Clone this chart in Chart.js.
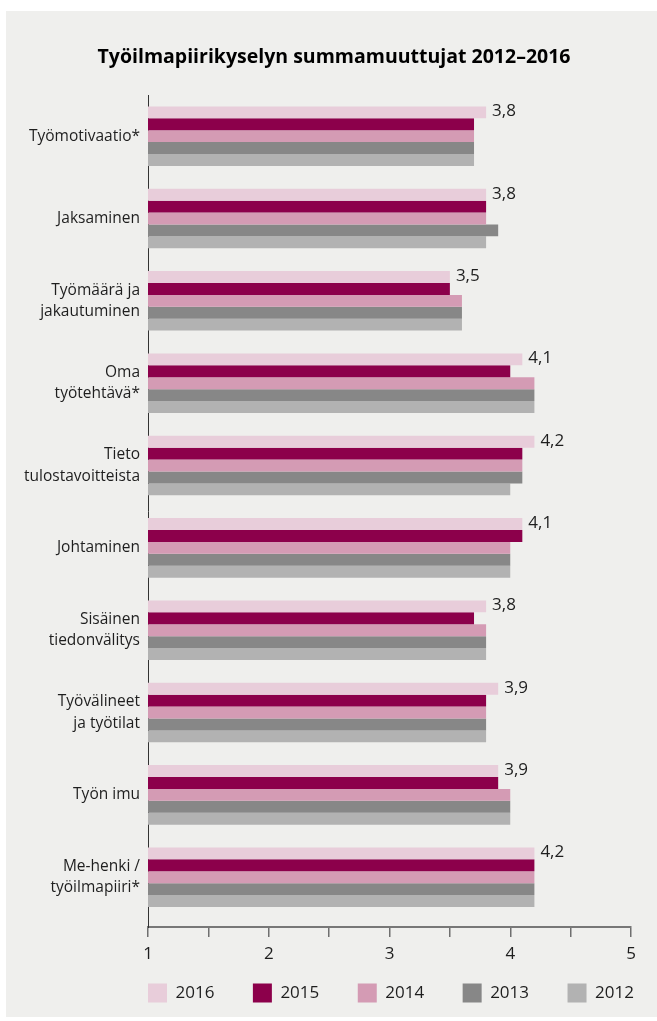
<!DOCTYPE html>
<html lang="fi">
<head>
<meta charset="utf-8">
<title>Työilmapiirikyselyn summamuuttujat 2012–2016</title>
<script src="https://cdn.jsdelivr.net/npm/chart.js@4/dist/chart.umd.min.js"></script>
<style>
    html, body { margin: 0; padding: 0; background: #ffffff; }
    #panel {
        position: absolute; left: 6px; top: 11px;
        width: 651px; height: 1006px;
        background: #efefed;
    }
</style>
</head>
<body>
<div id="panel"><canvas id="chart" width="651" height="1006"></canvas></div>
<script>
const categories = [
    'Työmotivaatio*',
    'Jaksaminen',
    ['Työmäärä ja', 'jakautuminen'],
    ['Oma', 'työtehtävä*'],
    ['Tieto', 'tulostavoitteista'],
    'Johtaminen',
    ['Sisäinen', 'tiedonvälitys'],
    ['Työvälineet', 'ja työtilat'],
    'Työn imu',
    ['Me-henki /', 'työilmapiiri*']
];

const values2016 = [3.8, 3.8, 3.5, 4.1, 4.2, 4.1, 3.8, 3.9, 3.9, 4.2];
const values2015 = [3.7, 3.8, 3.5, 4.0, 4.1, 4.1, 3.7, 3.8, 3.9, 4.2];
const values2014 = [3.7, 3.8, 3.6, 4.2, 4.1, 4.0, 3.8, 3.8, 4.0, 4.2];
const values2013 = [3.7, 3.9, 3.6, 4.2, 4.1, 4.0, 3.8, 3.8, 4.0, 4.2];
const values2012 = [3.7, 3.8, 3.6, 4.2, 4.0, 4.0, 3.8, 3.8, 4.0, 4.2];

const years = ['2016', '2015', '2014', '2013', '2012'];
const colors = ['#e8cdda', '#8c004b', '#d49bb4', '#878787', '#b2b2b2'];

const FONT = "'Open Sans', 'Noto Sans', sans-serif";
const TEXT = '#1e1e1e';

// small layout tweaks the options can't express:
// bars stop a bit above the x axis line, title sits a little right of centre,
// legend starts under the plot's left edge and stays on one row
const tweakLayout = {
    id: 'tweakLayout',
    afterLayout(chart) {
        const area = chart.chartArea;
        const y = chart.scales.y;
        y._endPixel -= 8.6;
        y._length -= 8.6;

        if (chart.titleBlock) chart.titleBlock.left += 23;

        const lg = chart.legend;
        const pad = lg.options.labels.padding;
        lg.left = area.left - pad;
        lg.right = chart.width + 60;
        lg.top = area.bottom + 18;
    }
};

// value labels next to the 2016 bars
const valueLabels = {
    id: 'valueLabels',
    afterDatasetsDraw(chart) {
        const ctx = chart.ctx;
        const meta = chart.getDatasetMeta(0);
        const data = chart.data.datasets[0].data;
        ctx.save();
        ctx.font = '17px ' + FONT;
        ctx.fillStyle = TEXT;
        ctx.textBaseline = 'middle';
        ctx.textAlign = 'left';
        meta.data.forEach((bar, i) => {
            ctx.fillText(data[i].toFixed(1).replace('.', ','), bar.x + 6, bar.y - 1);
        });
        ctx.restore();
    }
};

const datasets = [values2016, values2015, values2014, values2013, values2012].map((vals, i) => ({
    label: years[i],
    data: vals,
    backgroundColor: colors[i],
    borderWidth: 0,
    categoryPercentage: 0.723,
    barPercentage: 1.0
}));

new Chart(document.getElementById('chart'), {
    type: 'bar',
    data: { labels: categories, datasets: datasets },
    plugins: [tweakLayout, valueLabels],
    options: {
        indexAxis: 'y',
        responsive: false,
        animation: false,
        layout: { padding: { left: 8, right: 26, top: 0, bottom: 0 } },
        scales: {
            x: {
                min: 1, max: 5,
                ticks: {
                    stepSize: 0.5,
                    autoSkip: false,
                    maxRotation: 0,
                    padding: 7,
                    color: TEXT,
                    font: { family: FONT, size: 17 },
                    callback: v => (v % 1 === 0 ? String(v) : '')
                },
                grid: {
                    drawOnChartArea: false,
                    drawTicks: true,
                    tickLength: 10,
                    color: '#6f6f6f',
                    lineWidth: 1.5
                },
                border: { display: true, color: '#777777', width: 2 }
            },
            y: {
                afterFit(scale) { scale.width = 134; },
                ticks: {
                    padding: 8,
                    color: TEXT,
                    font: { family: FONT, size: 15.5, lineHeight: 1.38 }
                },
                grid: { display: false, drawTicks: false },
                border: { display: true, color: '#333333', width: 1 }
            }
        },
        plugins: {
            title: {
                display: true,
                text: 'Työilmapiirikyselyn summamuuttujat 2012–2016',
                color: '#000000',
                font: { family: FONT, size: 19.5, weight: 'bold' },
                padding: { top: 35, bottom: 25.6 }
            },
            legend: {
                position: 'bottom',
                align: 'start',
                maxHeight: 45.6,
                labels: {
                    boxWidth: 19,
                    boxHeight: 19,
                    padding: 38.5,
                    color: TEXT,
                    font: { family: FONT, size: 17 }
                }
            },
            tooltip: { enabled: false }
        }
    }
});
</script>
</body>
</html>
